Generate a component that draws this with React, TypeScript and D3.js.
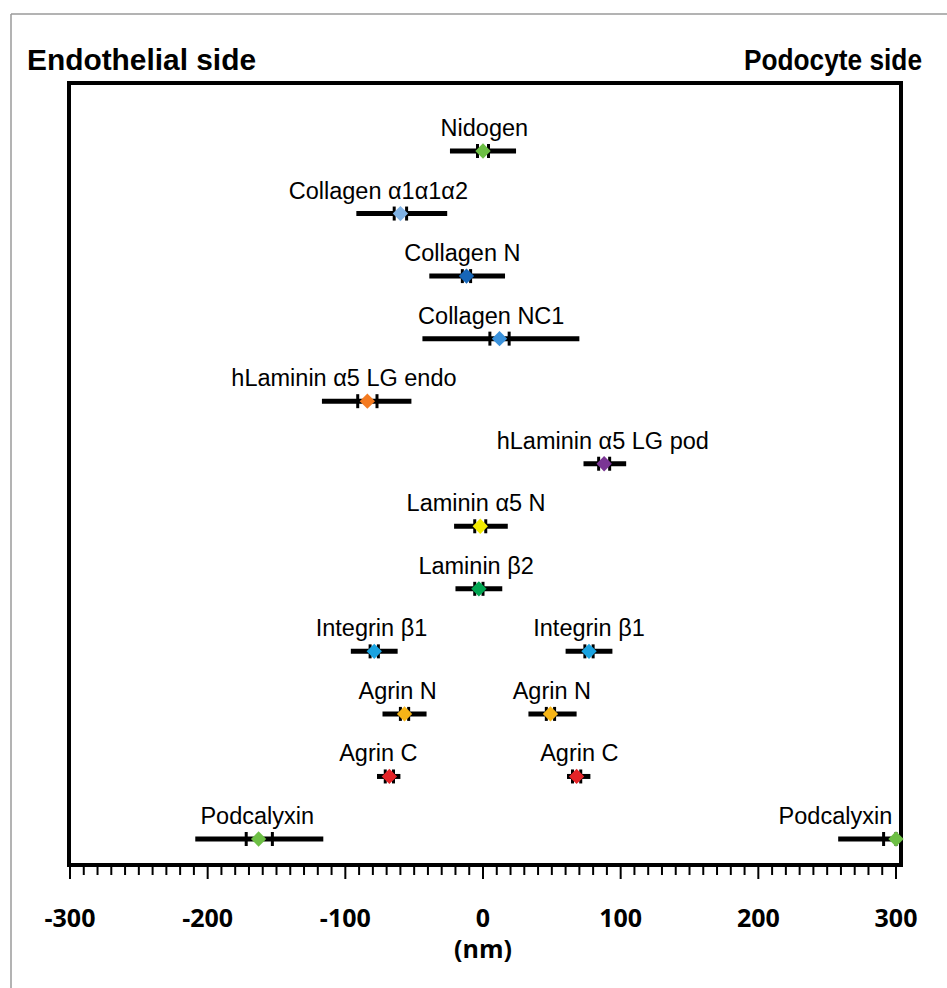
import React from 'react';
import * as d3 from 'd3';

// one entry per marker: label, mean, inner (sem) and outer (range) limits in nm, row index
const names = [
  'Nidogen',
  'Collagen α1α1α2',
  'Collagen N',
  'Collagen NC1',
  'hLaminin α5 LG endo',
  'hLaminin α5 LG pod',
  'Laminin α5 N',
  'Laminin β2',
  'Integrin β1',
  'Integrin β1',
  'Agrin N',
  'Agrin N',
  'Agrin C',
  'Agrin C',
  'Podcalyxin',
  'Podcalyxin',
];
const rows = [0, 1, 2, 3, 4, 5, 6, 7, 8, 8, 9, 9, 10, 10, 11, 11];
const means = [0, -60, -12, 12, -84, 88, -2, -3, -79, 77, -57, 49, -68, 68, -163, 300];
const lows = [-24, -92, -39, -44, -117, 73, -21, -20, -96, 60, -73, 33, -77, 61, -209, 258];
const highs = [24, -26, 16, 70, -52, 104, 18, 14, -62, 94, -41, 68, -60, 78, -116, 300];
const semLo = [-4, -64.5, -15, 5, -91, 84, -6, -6, -82, 74, -60, 46, -71, 65, -172, 291];
const semHi = [4, -55.5, -9, 19, -77, 92, 2, 0, -76, 80, -54, 52, -65, 71, -153, 300];
// label centre in nm
const labelAt = [1, -76, -15, 6, -101, 87, -5, -5, -81, 77, -62, 50, -76, 70, -164, 256];
const colors = [
  '#6dbf45',
  '#7fb2e5',
  '#1766b8',
  '#3a92dc',
  '#f47a20',
  '#7a3594',
  '#f2ea00',
  '#00a651',
  '#1aa3e0',
  '#1aa3e0',
  '#f7b517',
  '#f7b517',
  '#e42428',
  '#e42428',
  '#6dbf45',
  '#6dbf45',
];
const majorTicks = [-300, -200, -100, 0, 100, 200, 300];

const W = 947;
const H = 988;

export default function App() {
  const x = d3.scaleLinear().domain([-300, 300]).range([70, 896]);
  const y = d3.scaleLinear().domain([0, 11]).range([151, 839]);
  const minorTicks = d3.range(-300, 301, 10);
  const frameTop = 83;
  const frameBottom = 865;
  const diamond = d3.symbol().type(d3.symbolDiamond2).size(150)();

  return (
    <div style={{ position: 'absolute', left: 0, top: 0 }}>
      <svg width={W} height={H} viewBox={`0 0 ${W} ${H}`} style={{ display: 'block', background: '#fff' }}>
        {/* outer grey border of the figure */}
        <line x1={11} x2={W} y1={14} y2={14} stroke="#9a9a9a" strokeWidth={1.5} />
        <line x1={11} x2={11} y1={14} y2={H} stroke="#9a9a9a" strokeWidth={1.5} />

        <g fontFamily="'Liberation Sans Narrow', 'Liberation Sans', Arial, sans-serif" fontWeight="bold" fontSize={29}>
          <text x={27} y={70} textLength={229} lengthAdjust="spacingAndGlyphs">
            Endothelial side
          </text>
          <text x={744} y={70} textLength={178} lengthAdjust="spacingAndGlyphs">
            Podocyte side
          </text>
        </g>

        <rect x={69} y={frameTop} width={832} height={frameBottom - frameTop} fill="none" stroke="#000" strokeWidth={4} />

        <g stroke="#000" strokeWidth={2}>
          {minorTicks.map((t) => (
            <line
              key={t}
              x1={x(t)}
              x2={x(t)}
              y1={frameBottom}
              y2={frameBottom + (t % 100 === 0 ? 14 : 10)}
            />
          ))}
        </g>
        <g fontFamily="'Open Sans', 'DejaVu Sans', sans-serif" fontWeight="bold" fontSize={25} textAnchor="middle">
          {majorTicks.map((t) => (
            <text key={t} x={x(t)} y={927}>
              {t}
            </text>
          ))}
          <text x={x(0)} y={958}>(nm)</text>
        </g>

        <g fontFamily="'Liberation Sans', Arial, sans-serif" fontSize={23.5}>
          {names.map((n, i) => {
            const cy = y(rows[i]);
            return (
              <g key={`m${i}`}>
                <text x={x(labelAt[i])} y={cy - 15} textAnchor="middle">
                  {n}
                </text>
                <line x1={x(lows[i])} x2={x(highs[i])} y1={cy} y2={cy} stroke="#000" strokeWidth={5} />
                <line x1={x(semLo[i])} x2={x(semLo[i])} y1={cy - 7} y2={cy + 7} stroke="#000" strokeWidth={3} />
                <line x1={x(semHi[i])} x2={x(semHi[i])} y1={cy - 7} y2={cy + 7} stroke="#000" strokeWidth={3} />
                <path d={diamond || ''} transform={`translate(${x(means[i])},${cy})`} fill={colors[i]} />
              </g>
            );
          })}
        </g>
      </svg>
    </div>
  );
}
